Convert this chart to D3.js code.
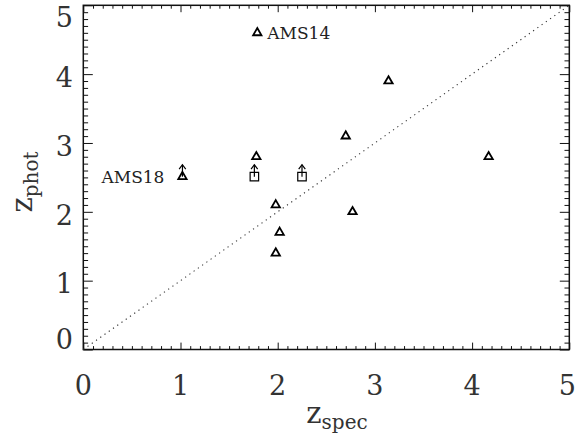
<!DOCTYPE html>
<html><head><meta charset="utf-8">
<script src="https://cdn.jsdelivr.net/npm/d3@7"></script>
<style>
html,body{margin:0;padding:0;background:#fff;}
</style></head>
<body>
<svg id="chart" width="587" height="442"></svg>
<script>
// ---- data ----
const xTickValues = [0, 1, 2, 3, 4, 5];
const yTickValues = [0, 1, 2, 3, 4, 5];
const triX = [1.79, 3.14, 2.70, 1.78, 4.17, 1.98, 2.77, 2.02, 1.98];
const triY = [4.60, 3.90, 3.10, 2.80, 2.80, 2.10, 2.00, 1.70, 1.40];
const limX = [1.02, 1.76, 2.25];
const limY = [2.51, 2.51, 2.51];
const limShape = ["triangle", "square", "square"];
const labelNames = ["AMS14", "AMS18"];
const labelX = [1.79, 1.02];
const labelY = [4.60, 2.51];
const labelSide = ["right", "left"];
const oneToOne = [0, 5];

// ---- layout ----
const FONT = "DejaVu Serif, serif";
const svg = d3.select("#chart");
const L = 83.3, R = 569.3, T = 5.3, B = 349.5;
const x = d3.scaleLinear().domain([0, 5]).range([L, R]);
const y = d3.scaleLinear().domain([0, 5]).range([B, T]);

svg.append("rect").attr("width", 587).attr("height", 442).attr("fill", "#fff");

const minorX = d3.range(0, 50).map(i => i / 10).filter(v => !xTickValues.includes(v));
const minorY = minorX.slice();

const xMaj = 6.9, xMin = 3.4, yMaj = 9.5, yMin = 4.8;
function tickAxis(gen, tr, vals, size) {
  const g = svg.append("g").attr("transform", tr)
    .call(gen.tickValues(vals).tickSize(size).tickFormat(""));
  g.select(".domain").remove();
  g.selectAll("line").attr("stroke", "#111").attr("stroke-width", 1);
  return g;
}
tickAxis(d3.axisBottom(x), `translate(0,${B})`, xTickValues, -xMaj);
tickAxis(d3.axisBottom(x), `translate(0,${B})`, minorX, -xMin);
tickAxis(d3.axisTop(x), `translate(0,${T})`, xTickValues, -xMaj);
tickAxis(d3.axisTop(x), `translate(0,${T})`, minorX, -xMin);
tickAxis(d3.axisLeft(y), `translate(${L},0)`, yTickValues, -yMaj);
tickAxis(d3.axisLeft(y), `translate(${L},0)`, minorY, -yMin);
tickAxis(d3.axisRight(y), `translate(${R},0)`, yTickValues, -yMaj);
tickAxis(d3.axisRight(y), `translate(${R},0)`, minorY, -yMin);

svg.append("rect").attr("x", L).attr("y", T).attr("width", R - L).attr("height", B - T)
  .attr("fill", "none").attr("stroke", "#111").attr("stroke-width", 1.5);

// tick labels
svg.selectAll(".xl").data(xTickValues).enter().append("text")
  .style("font-family", FONT).attr("fill", "#333")
  .attr("x", (d, i) => x(d) - (i === xTickValues.length - 1 ? 2 : 0))
  .attr("y", 395).attr("text-anchor", "middle").attr("font-size", 27).text(d => d);
svg.selectAll(".yl").data(yTickValues).enter().append("text")
  .style("font-family", FONT).attr("fill", "#333")
  .attr("x", 73)
  .attr("y", (d, i) => y(d) + 3 + (i === 0 ? -13 : (i === yTickValues.length - 1 ? 9 : 0)))
  .attr("dy", "0.36em")
  .attr("text-anchor", "end").attr("font-size", 27).text(d => d);

// axis titles
const xt = svg.append("text").style("font-family", FONT).attr("fill", "#333")
  .attr("x", 337).attr("y", 423).attr("text-anchor", "middle");
xt.append("tspan").attr("font-size", 29).text("z");
xt.append("tspan").attr("font-size", 20).attr("dy", 6).text("spec");
const yt = svg.append("text").style("font-family", FONT).attr("fill", "#333")
  .attr("transform", `translate(32,182) rotate(-90)`)
  .attr("text-anchor", "middle");
yt.append("tspan").attr("font-size", 29).text("z");
yt.append("tspan").attr("font-size", 20).attr("dy", 6).text("phot");

// one-to-one line
svg.append("line")
  .attr("x1", x(oneToOne[0])).attr("y1", y(oneToOne[0]))
  .attr("x2", x(oneToOne[1])).attr("y2", y(oneToOne[1]))
  .attr("stroke", "#333").attr("stroke-width", 1.1).attr("stroke-dasharray", "1.2,4");

// markers
const tri = d3.symbol().type(d3.symbolTriangle).size(30);
const sq = d3.symbol().type(d3.symbolSquare).size(72);
svg.selectAll(".tri").data(triX.map((v, i) => [v, triY[i]])).enter().append("path")
  .attr("d", tri).attr("transform", d => `translate(${x(d[0])},${y(d[1])})`)
  .attr("fill", "none").attr("stroke", "#000").attr("stroke-width", 1.8);

const lim = svg.selectAll(".lim").data(limX.map((v, i) => ({ x: v, y: limY[i], s: limShape[i] })))
  .enter().append("g").attr("transform", d => `translate(${x(d.x)},${y(d.y)})`);
lim.append("path").attr("d", d => d.s === "square" ? sq() : tri())
  .attr("fill", "none").attr("stroke", "#000")
  .attr("stroke-width", d => d.s === "square" ? 1.2 : 1.8);
lim.append("line").attr("x1", 0).attr("y1", 0).attr("x2", 0).attr("y2", -12)
  .attr("stroke", "#000").attr("stroke-width", 1.2);
lim.append("path").attr("d", "M-3.3,-7.5L0,-12L3.3,-7.5")
  .attr("fill", "none").attr("stroke", "#000").attr("stroke-width", 1.2);

// labels
svg.selectAll(".lab").data(labelNames).enter().append("text")
  .style("font-family", FONT).attr("fill", "#222")
  .attr("x", (d, i) => x(labelX[i]) + (labelSide[i] === "right" ? 10 : -18))
  .attr("y", (d, i) => y(labelY[i]))
  .attr("dy", "0.35em")
  .attr("text-anchor", (d, i) => labelSide[i] === "right" ? "start" : "end")
  .attr("font-size", 17).text(d => d);
</script>
</body></html>
